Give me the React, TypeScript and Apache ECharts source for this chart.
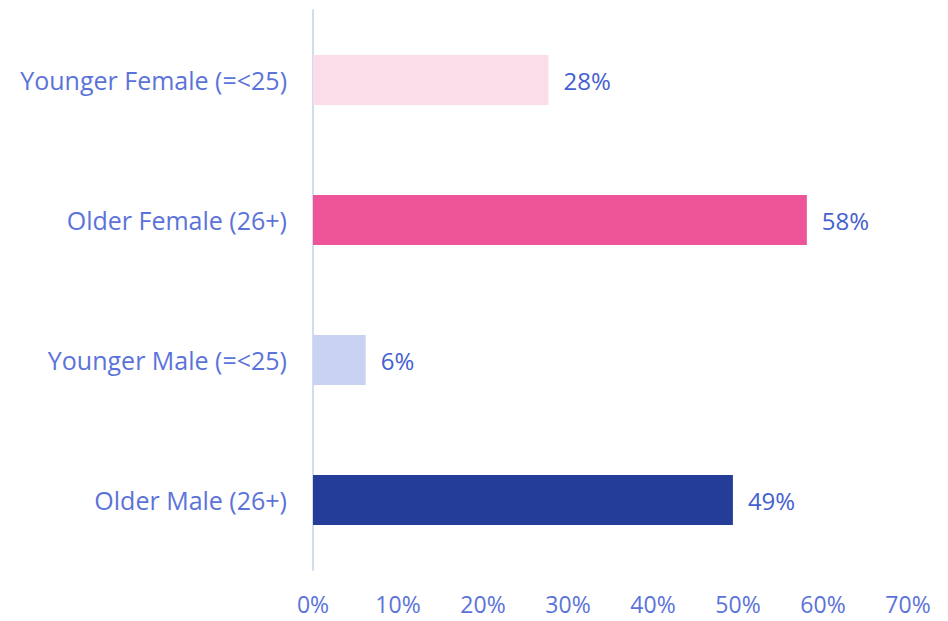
import React, { useEffect, useRef } from "react";
import * as echarts from "echarts";

const categories = [
  "Younger Female (=<25)",
  "Older Female (26+)",
  "Younger Male (=<25)",
  "Older Male (26+)",
];
const values = [27.7, 58.1, 6.2, 49.4];
const barColors = ["#fbdce9", "#ee5598", "#c9d2f0", "#233d98"];
const xTicks = [0, 10, 20, 30, 40, 50, 60, 70];

export default function App() {
  const ref = useRef<HTMLDivElement>(null);
  useEffect(() => {
    if (!ref.current) return;
    const chart = echarts.init(ref.current, null, { renderer: "svg" });
    const font = "'Open Sans', Lato, sans-serif";
    chart.setOption({
      animation: false,
      grid: { left: 305, right: 32, top: 2, bottom: 51 },
      xAxis: {
        type: "value",
        min: xTicks[0],
        max: xTicks[xTicks.length - 1],
        interval: 10,
        axisLine: { show: false },
        axisTick: { show: false },
        splitLine: { show: false },
        axisLabel: {
          formatter: (v: number) => `${v}%`,
          color: "#5b73d9",
          fontSize: 23,
          fontFamily: font,
          margin: 22,
        },
      },
      yAxis: {
        type: "category",
        data: categories,
        inverse: true,
        axisLine: { show: true, lineStyle: { color: "#d3daf3", width: 2 } },
        axisTick: { show: false },
        axisLabel: {
          color: "#5b73d9",
          fontSize: 25,
          fontFamily: font,
          margin: 26,
        },
      },
      series: [
        {
          type: "bar",
          barWidth: 50,
          data: values.map((v, i) => ({ value: v, itemStyle: { color: barColors[i] } })),
          label: {
            show: true,
            position: "right",
            distance: 15,
            formatter: (p: any) => `${Math.round(p.value)}%`,
            color: "#4560d0",
            fontSize: 24,
            fontFamily: font,
          },
        },
      ],
    });
    return () => chart.dispose();
  }, []);
  return <div ref={ref} style={{ width: 932, height: 613 }} />;
}
